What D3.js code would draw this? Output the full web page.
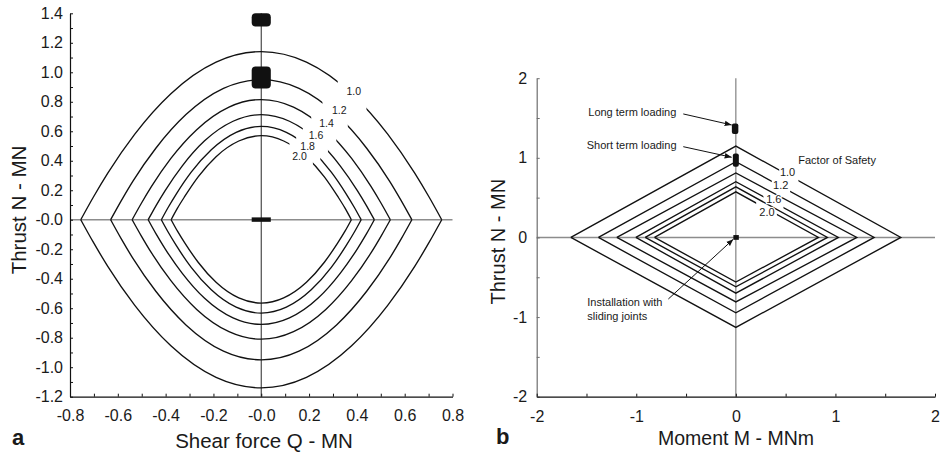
<!DOCTYPE html>
<html>
<head>
<meta charset="utf-8">
<script src="https://cdn.jsdelivr.net/npm/d3@7"></script>
<style>
  html, body { margin: 0; padding: 0; background: #fff; }
  svg { display: block; font-family: "Liberation Sans", Arial, sans-serif; }
</style>
</head>
<body>
<svg id="chart" width="941" height="453"></svg>
<script>
// ---------------- DATA ----------------
// Factor of safety levels
const fsLevels = ["1.0", "1.2", "1.4", "1.6", "1.8", "2.0"];

// Panel a: shear force Q (MN) sample points along each interaction curve
const shearQ = [
  [-0.755, -0.702, -0.642, -0.529, -0.378, -0.189, 0, 0.189, 0.378, 0.529, 0.642, 0.702, 0.755],
  [-0.630, -0.586, -0.536, -0.441, -0.315, -0.158, 0, 0.158, 0.315, 0.441, 0.536, 0.586, 0.630],
  [-0.540, -0.502, -0.459, -0.378, -0.270, -0.135, 0, 0.135, 0.270, 0.378, 0.459, 0.502, 0.540],
  [-0.473, -0.440, -0.402, -0.331, -0.237, -0.118, 0, 0.118, 0.237, 0.331, 0.402, 0.440, 0.473],
  [-0.418, -0.389, -0.355, -0.293, -0.209, -0.105, 0, 0.105, 0.209, 0.293, 0.355, 0.389, 0.418],
  [-0.377, -0.351, -0.320, -0.264, -0.189, -0.094, 0, 0.094, 0.189, 0.264, 0.320, 0.351, 0.377]
];
// Panel a: thrust N (MN) on the upper branch
const thrustTopA = [
  [0, 0.154, 0.316, 0.581, 0.855, 1.069, 1.140, 1.069, 0.855, 0.581, 0.316, 0.154, 0],
  [0, 0.128, 0.264, 0.485, 0.713, 0.891, 0.950, 0.891, 0.713, 0.485, 0.264, 0.128, 0],
  [0, 0.110, 0.226, 0.416, 0.611, 0.764, 0.815, 0.764, 0.611, 0.416, 0.226, 0.110, 0],
  [0, 0.096, 0.198, 0.364, 0.535, 0.668, 0.713, 0.668, 0.535, 0.364, 0.198, 0.096, 0],
  [0, 0.085, 0.176, 0.323, 0.475, 0.593, 0.633, 0.593, 0.475, 0.323, 0.176, 0.085, 0],
  [0, 0.077, 0.158, 0.291, 0.428, 0.534, 0.570, 0.534, 0.428, 0.291, 0.158, 0.077, 0]
];
// Panel a: thrust N (MN) on the lower branch
const thrustBotA = [
  [0, -0.154, -0.316, -0.581, -0.855, -1.069, -1.140, -1.069, -0.855, -0.581, -0.316, -0.154, 0],
  [0, -0.128, -0.264, -0.485, -0.713, -0.891, -0.950, -0.891, -0.713, -0.485, -0.264, -0.128, 0],
  [0, -0.109, -0.225, -0.413, -0.608, -0.759, -0.810, -0.759, -0.608, -0.413, -0.225, -0.109, 0],
  [0, -0.096, -0.197, -0.362, -0.533, -0.666, -0.710, -0.666, -0.533, -0.362, -0.197, -0.096, 0],
  [0, -0.085, -0.176, -0.323, -0.475, -0.593, -0.633, -0.593, -0.475, -0.323, -0.176, -0.085, 0],
  [0, -0.076, -0.157, -0.288, -0.424, -0.530, -0.565, -0.530, -0.424, -0.288, -0.157, -0.076, 0]
];
// Panel a: contour label positions (Q, N) and label gaps (Q range on upper right branch)
const labelQA = [0.387, 0.326, 0.273, 0.229, 0.194, 0.160];
const labelNA = [0.872, 0.741, 0.654, 0.574, 0.503, 0.431];
const gapStartA = [0.320, 0.256, 0.209, 0.174, 0.146, 0.118];
const gapEndA   = [0.440, 0.362, 0.314, 0.279, 0.247, 0.216];

// Panel a: load cases (Q range, N range)
const loadQA = [[-0.04, 0.04], [-0.04, 0.04], [-0.04, 0.04]];
const loadNA = [[1.31, 1.40], [0.89, 1.04], [-0.014, 0.016]];

// Panel a axis ticks
const xTicksA = [-0.8, -0.6, -0.4, -0.2, 0, 0.2, 0.4, 0.6, 0.8];
const xLabelsA = ["-0.8", "-0.6", "-0.4", "-0.2", "-0.0", "0.2", "0.4", "0.6", "0.8"];
const xMinorA = [-0.8, -0.7, -0.6, -0.5, -0.4, -0.3, -0.2, -0.1, 0, 0.1, 0.2, 0.3, 0.4, 0.5, 0.6, 0.7, 0.8];
const yTicksA = [-1.2, -1.0, -0.8, -0.6, -0.4, -0.2, 0, 0.2, 0.4, 0.6, 0.8, 1.0, 1.2, 1.4];
const yLabelsA = ["-1.2", "-1.0", "-0.8", "-0.6", "-0.4", "-0.2", "-0.0", "0.2", "0.4", "0.6", "0.8", "1.0", "1.2", "1.4"];
const yMinorA = [-1.2, -1.1, -1.0, -0.9, -0.8, -0.7, -0.6, -0.5, -0.4, -0.3, -0.2, -0.1, 0, 0.1, 0.2, 0.3, 0.4, 0.5, 0.6, 0.7, 0.8, 0.9, 1.0, 1.1, 1.2, 1.3, 1.4];

// Panel b: diamond interaction envelopes (moment M in MNm, thrust N in MN)
const momentLeftB  = [-1.657, -1.380, -1.195, -1.004, -0.910, -0.817];
const momentRightB = [1.657, 1.389, 1.215, 1.030, 0.920, 0.830];
const thrustTopB = [1.147, 0.952, 0.810, 0.700, 0.636, 0.573];
const thrustBotB = [-1.130, -0.947, -0.810, -0.700, -0.620, -0.560];
// Panel b: labelled contours
const labelIdxB = [0, 1, 3, 5];
const labelMB = [0.519, 0.451, 0.381, 0.313];
const labelNB = [0.818, 0.659, 0.479, 0.320];
const gapStartB = [0.436, 0.361, 0.277, 0.204];
const gapEndB   = [0.628, 0.545, 0.478, 0.412];

// Panel b: load cases (M range, N range)
const loadMB = [[-0.04, 0.025], [-0.03, 0.03], [-0.025, 0.03]];
const loadNB = [[1.30, 1.43], [0.887, 1.055], [-0.03, 0.03]];

// Panel b annotations
const annotTextB = [["Long term loading"], ["Short term loading"], ["Installation with", "sliding joints"]];
const annotTextMB = [-1.482, -1.498, -1.492];
const annotTextNB = [1.572, 1.161, -0.815];
const arrowFromB = [[-0.528, 1.551], [-0.528, 1.140], [-0.678, -0.773]];
const arrowToB   = [[-0.042, 1.413], [-0.042, 1.007], [-0.026, -0.023]];
const fosTitle = "Factor of Safety";
const fosTitlePos = [0.627, 0.973];

// Panel b axis ticks
const xTicksB = [-2, -1, 0, 1, 2];
const xLabelsB = ["-2", "-1", "0", "1", "2"];
const xMinorB = [-2, -1.5, -1, -0.5, 0, 0.5, 1, 1.5, 2];
const yTicksB = [-2, -1, 0, 1, 2];
const yLabelsB = ["-2", "-1", "0", "1", "2"];
const yMinorB = [-2, -1.5, -1, -0.5, 0, 0.5, 1, 1.5, 2];

// ---------------- DRAWING ----------------
const svg = d3.select("#chart");
const defs = svg.append("defs");
const INK = "#111";
const GREY = "#8c8c8c";
const TICK_FONT = 16;

defs.append("marker")
  .attr("id", "arrowhead").attr("viewBox", "0 0 10 10")
  .attr("refX", 10).attr("refY", 5)
  .attr("markerWidth", 7).attr("markerHeight", 7)
  .attr("markerUnits", "userSpaceOnUse")
  .attr("orient", "auto")
  .append("path").attr("d", "M0,1 L10,5 L0,9 Z").attr("fill", INK);

// ===== Panel a =====
const xA = d3.scaleLinear().domain([-0.8, 0.8]).range([70, 452.5]);
const yA = d3.scaleLinear().domain([-1.2, 1.4]).range([396.7, 13.3]);
const gA = svg.append("g");

// zero lines
gA.append("line")
  .attr("x1", xA(-0.8)).attr("x2", xA(0.8)).attr("y1", yA(0)).attr("y2", yA(0))
  .attr("stroke", GREY).attr("stroke-width", 1.4);
gA.append("line")
  .attr("x1", xA(0)).attr("x2", xA(0)).attr("y1", yA(1.4)).attr("y2", yA(-1.2))
  .attr("stroke", "#3a3a3a").attr("stroke-width", 1.1);

// axes
function styleAxis(g, color) {
  g.selectAll("path").attr("stroke", color).attr("stroke-width", 1.2);
  g.selectAll("line").attr("stroke", color).attr("stroke-width", 1);
}
const axYA = gA.append("g").attr("transform", `translate(${xA(-0.8)},0)`)
  .call(d3.axisLeft(yA).tickValues(yMinorA).tickFormat("").tickSize(-3).tickSizeOuter(0));
styleAxis(axYA, INK);
const axYAl = gA.append("g").attr("transform", `translate(${xA(-0.8)},0)`)
  .call(d3.axisLeft(yA).tickValues(yTicksA).tickFormat((d, i) => yLabelsA[i]).tickSize(0).tickPadding(7).tickSizeOuter(0));
axYAl.select(".domain").remove();
axYAl.selectAll("text").attr("font-size", TICK_FONT).attr("fill", "#1a1a1a")
  .style("font-family", '"Liberation Sans", Arial, sans-serif');

const axXA = gA.append("g").attr("transform", `translate(0,${yA(-1.2)})`)
  .call(d3.axisBottom(xA).tickValues(xMinorA).tickFormat("").tickSize(-3).tickSizeOuter(0));
styleAxis(axXA, INK);
const axXAl = gA.append("g").attr("transform", `translate(0,${yA(-1.2)})`)
  .call(d3.axisBottom(xA).tickValues(xTicksA).tickFormat((d, i) => xLabelsA[i]).tickSize(0).tickPadding(12.5).tickSizeOuter(0));
axXAl.select(".domain").remove();
axXAl.selectAll("text").attr("font-size", TICK_FONT).attr("fill", "#1a1a1a")
  .style("font-family", '"Liberation Sans", Arial, sans-serif');

// curves with label gaps (mask per curve)
const lineA = d3.line().x(d => xA(d[0])).y(d => yA(d[1])).curve(d3.curveMonotoneX);
fsLevels.forEach((fs, i) => {
  const m = defs.append("mask").attr("id", "maskA" + i).attr("maskUnits", "userSpaceOnUse")
    .attr("x", 0).attr("y", 0).attr("width", 941).attr("height", 453);
  m.append("rect").attr("x", 0).attr("y", 0).attr("width", 941).attr("height", 453).attr("fill", "#fff");
  m.append("rect").attr("x", xA(gapStartA[i])).attr("y", 0)
    .attr("width", xA(gapEndA[i]) - xA(gapStartA[i])).attr("height", yA(0) - 2)
    .attr("fill", "#000");
  const top = shearQ[i].map((q, k) => [q, thrustTopA[i][k]]);
  const bot = shearQ[i].map((q, k) => [q, thrustBotA[i][k]]);
  const cg = gA.append("g").attr("mask", `url(#maskA${i})`);
  cg.append("path").attr("d", lineA(top)).attr("fill", "none").attr("stroke", INK).attr("stroke-width", 1.35);
  cg.append("path").attr("d", lineA(bot)).attr("fill", "none").attr("stroke", INK).attr("stroke-width", 1.35);
  gA.append("text").attr("x", xA(labelQA[i])).attr("y", yA(labelNA[i]))
    .attr("text-anchor", "middle").attr("dominant-baseline", "central")
    .attr("font-size", 10.5).attr("fill", "#1a1a1a").text(fs);
});

// load markers
loadQA.forEach((qr, i) => {
  const nr = loadNA[i];
  gA.append("rect")
    .attr("x", xA(qr[0])).attr("y", yA(nr[1]))
    .attr("width", xA(qr[1]) - xA(qr[0])).attr("height", yA(nr[0]) - yA(nr[1]))
    .attr("rx", i < 2 ? 4 : 0).attr("fill", INK);
});

// titles
gA.append("text").attr("x", 264).attr("y", 448).attr("text-anchor", "middle")
  .attr("font-size", 20.5).attr("fill", "#1a1a1a").text("Shear force Q - MN");
gA.append("text").attr("transform", "translate(26,210) rotate(-90)").attr("text-anchor", "middle")
  .attr("font-size", 20.5).attr("fill", "#1a1a1a").text("Thrust N - MN");
gA.append("text").attr("x", 12).attr("y", 445).attr("font-size", 22).attr("font-weight", "bold")
  .attr("fill", "#1a1a1a").text("a");

// ===== Panel b =====
const xB = d3.scaleLinear().domain([-2, 2]).range([536.7, 935]);
const yB = d3.scaleLinear().domain([-2, 2]).range([396.7, 78.2]);
const gB = svg.append("g");

gB.append("line")
  .attr("x1", xB(-2)).attr("x2", xB(2)).attr("y1", yB(0)).attr("y2", yB(0))
  .attr("stroke", GREY).attr("stroke-width", 1.4);
gB.append("line")
  .attr("x1", xB(0)).attr("x2", xB(0)).attr("y1", yB(2)).attr("y2", yB(-2))
  .attr("stroke", "#777").attr("stroke-width", 1.1);

const axYB = gB.append("g").attr("transform", `translate(${xB(-2)},0)`)
  .call(d3.axisLeft(yB).tickValues(yMinorB).tickFormat("").tickSize(-3).tickSizeOuter(0));
styleAxis(axYB, "#6e6e6e");
const axYBl = gB.append("g").attr("transform", `translate(${xB(-2)},0)`)
  .call(d3.axisLeft(yB).tickValues(yTicksB).tickFormat((d, i) => yLabelsB[i]).tickSize(0).tickPadding(9.5).tickSizeOuter(0));
axYBl.select(".domain").remove();
axYBl.selectAll("text").attr("font-size", TICK_FONT).attr("fill", "#1a1a1a")
  .style("font-family", '"Liberation Sans", Arial, sans-serif');

const axXB = gB.append("g").attr("transform", `translate(0,${yB(-2)})`)
  .call(d3.axisBottom(xB).tickValues(xMinorB).tickFormat("").tickSize(-3).tickSizeOuter(0));
styleAxis(axXB, INK);
const axXBl = gB.append("g").attr("transform", `translate(0,${yB(-2)})`)
  .call(d3.axisBottom(xB).tickValues(xTicksB).tickFormat((d, i) => xLabelsB[i]).tickSize(0).tickPadding(13.5).tickSizeOuter(0));
axXBl.select(".domain").remove();
axXBl.selectAll("text").attr("font-size", TICK_FONT).attr("fill", "#1a1a1a")
  .style("font-family", '"Liberation Sans", Arial, sans-serif');

// diamonds
const lineB = d3.line().x(d => xB(d[0])).y(d => yB(d[1]));
fsLevels.forEach((fs, i) => {
  const pts = [[momentLeftB[i], 0], [0, thrustTopB[i]], [momentRightB[i], 0], [0, thrustBotB[i]], [momentLeftB[i], 0]];
  const li = labelIdxB.indexOf(i);
  const cg = gB.append("g");
  if (li >= 0) {
    const m = defs.append("mask").attr("id", "maskB" + i).attr("maskUnits", "userSpaceOnUse")
      .attr("x", 0).attr("y", 0).attr("width", 941).attr("height", 453);
    m.append("rect").attr("x", 0).attr("y", 0).attr("width", 941).attr("height", 453).attr("fill", "#fff");
    m.append("rect").attr("x", xB(gapStartB[li])).attr("y", 0)
      .attr("width", xB(gapEndB[li]) - xB(gapStartB[li])).attr("height", yB(0) - 2)
      .attr("fill", "#000");
    cg.attr("mask", `url(#maskB${i})`);
  }
  cg.append("path").attr("d", lineB(pts)).attr("fill", "none")
    .attr("stroke", INK).attr("stroke-width", 1.35).attr("stroke-linejoin", "miter");
});
labelIdxB.forEach((idx, j) => {
  gB.append("text").attr("x", xB(labelMB[j])).attr("y", yB(labelNB[j]))
    .attr("text-anchor", "middle").attr("dominant-baseline", "central")
    .attr("font-size", 11).attr("fill", "#1a1a1a")
    .attr("stroke", "#fff").attr("stroke-width", 2.5).attr("paint-order", "stroke")
    .text(fsLevels[idx]);
});
gB.append("text").attr("x", xB(fosTitlePos[0])).attr("y", yB(fosTitlePos[1]))
  .attr("dominant-baseline", "central").attr("font-size", 11).attr("fill", "#1a1a1a").text(fosTitle);

// load markers
loadMB.forEach((mr, i) => {
  const nr = loadNB[i];
  gB.append("rect")
    .attr("x", xB(mr[0])).attr("y", yB(nr[1]))
    .attr("width", xB(mr[1]) - xB(mr[0])).attr("height", yB(nr[0]) - yB(nr[1]))
    .attr("rx", i < 2 ? 2 : 0).attr("fill", INK);
});

// annotations
annotTextB.forEach((lines, i) => {
  const t = gB.append("text").attr("x", xB(annotTextMB[i])).attr("y", yB(annotTextNB[i]))
    .attr("font-size", 11).attr("fill", "#1a1a1a").attr("dominant-baseline", "central");
  lines.forEach((s, k) => {
    t.append("tspan").attr("x", xB(annotTextMB[i])).attr("dy", k === 0 ? 0 : 13.7).text(s);
  });
  gB.append("line")
    .attr("x1", xB(arrowFromB[i][0])).attr("y1", yB(arrowFromB[i][1]))
    .attr("x2", xB(arrowToB[i][0])).attr("y2", yB(arrowToB[i][1]))
    .attr("stroke", INK).attr("stroke-width", 1).attr("marker-end", "url(#arrowhead)");
});

// titles
gB.append("text").attr("x", 736).attr("y", 445).attr("text-anchor", "middle")
  .attr("font-size", 19.5).attr("fill", "#1a1a1a").text("Moment M - MNm");
gB.append("text").attr("transform", "translate(505,241.7) rotate(-90)").attr("text-anchor", "middle")
  .attr("font-size", 20).attr("fill", "#1a1a1a").text("Thrust N - MN");
gB.append("text").attr("x", 496).attr("y", 443.5).attr("font-size", 22).attr("font-weight", "bold")
  .attr("fill", "#1a1a1a").text("b");
</script>
</body>
</html>
